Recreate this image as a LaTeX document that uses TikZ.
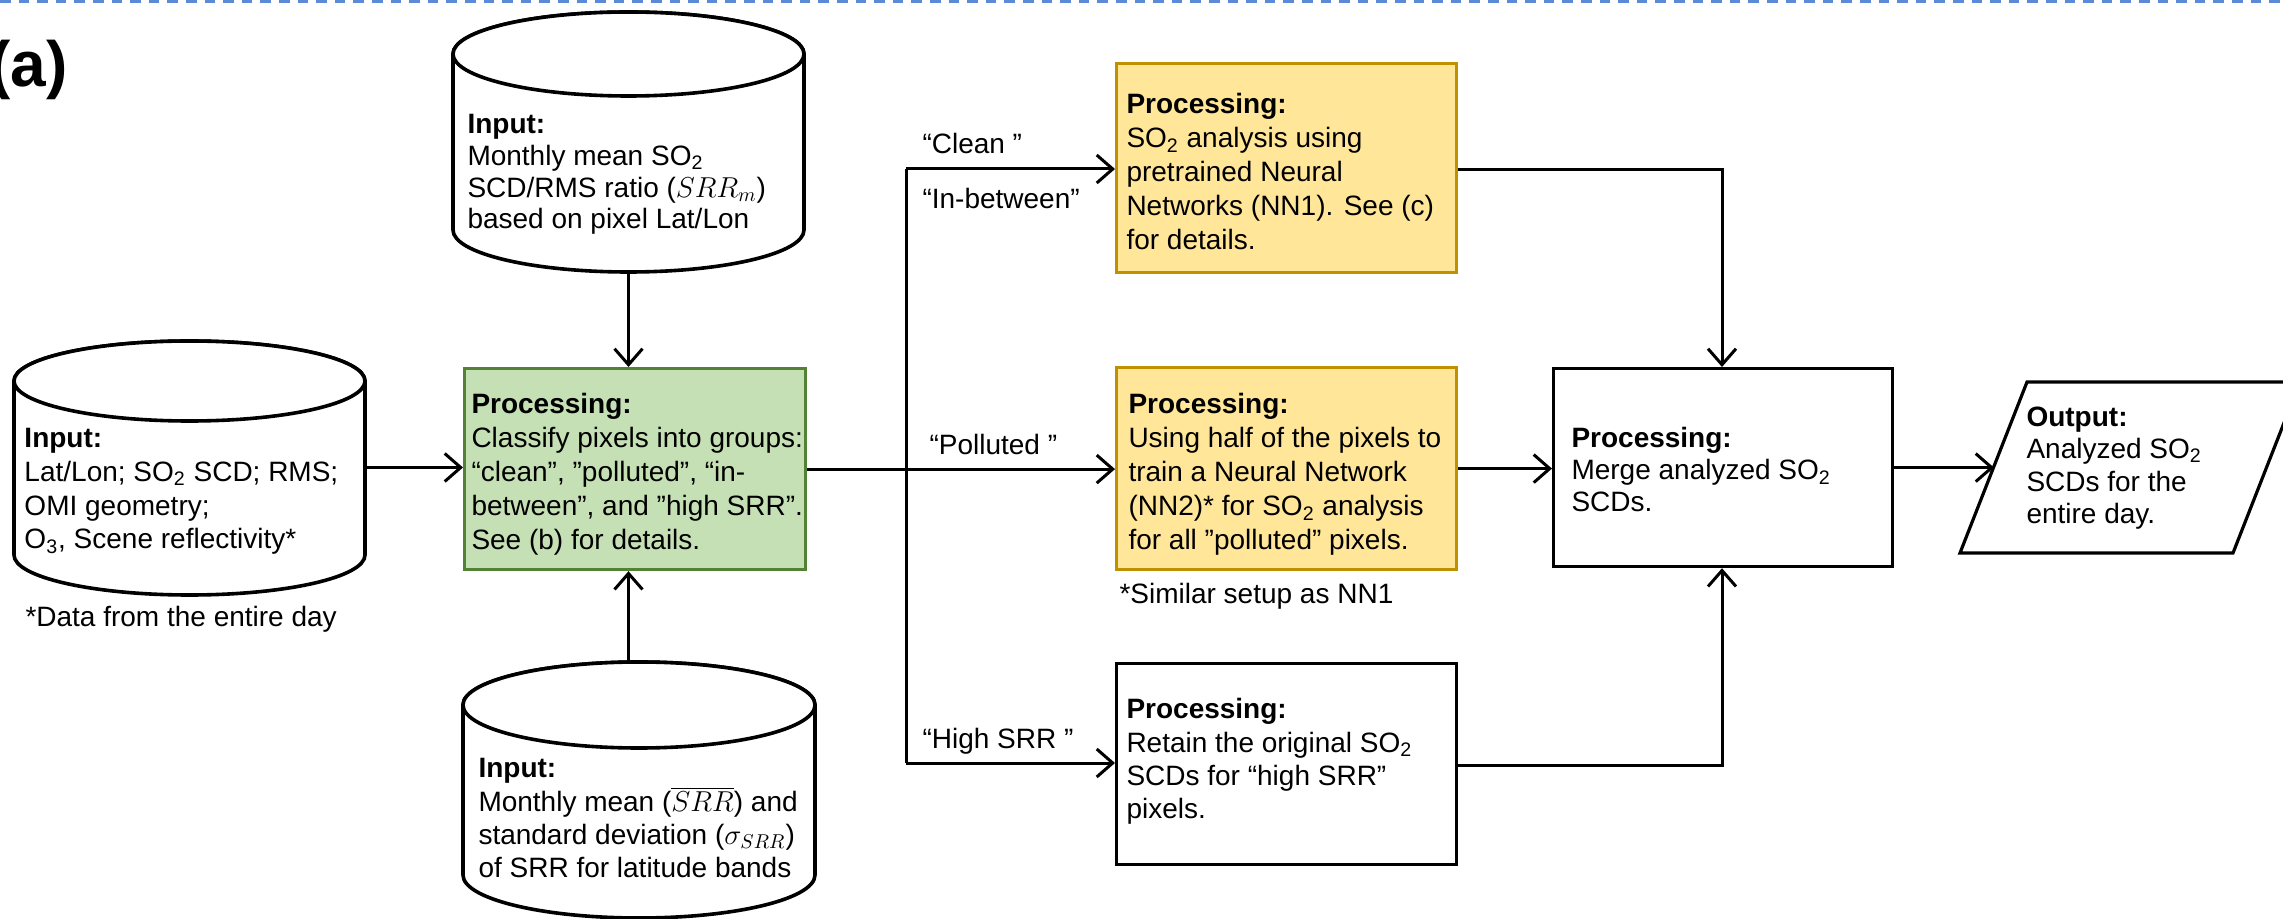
\documentclass[tikz,border=0pt]{standalone}
\usepackage{fontspec}
\setmainfont{Liberation Sans}
\usetikzlibrary{arrows.meta}
\definecolor{gfill}{HTML}{C5E0B4}
\definecolor{gline}{HTML}{548235}
\definecolor{yfill}{HTML}{FFE699}
\definecolor{yline}{HTML}{BF9000}
\definecolor{dline}{HTML}{5B8BD6}
\begin{document}
\begin{tikzpicture}[x=0.5pt,y=-0.5pt,line width=1.5pt,
  arr/.style={-{Straight Barb[length=8pt,width=14pt]}},
  frame/.style={inner sep=0pt,outer sep=0pt,draw=none},
  pbox/.style={draw=black,line width=1.6pt,inner sep=0pt,anchor=north west},
  gbox/.style={pbox,draw=gline,fill=gfill},
  ybox/.style={pbox,draw=yline,fill=yfill},
  cyl/.style={draw=black,line width=1.8pt,fill=white},
  tx/.style={anchor=north west,inner sep=0pt,align=left,font=\fontsize{14}{#1}\selectfont},
  tx/.default=17]
\useasboundingbox (0,0) rectangle (2283,919);
\clip (0,0) rectangle (2283,919);
% top dashed line
\draw[dline,line width=1.2pt,dash pattern=on 5.3pt off 4pt] (0,1.5) -- (2283,1.5);
% panel label
\node[anchor=west,inner sep=0pt,font=\bfseries\fontsize{32}{32}\selectfont] (lab) at (-12,70) {(a)};

% ---- cylinders ----
\node[frame,minimum width=175.5pt,minimum height=130pt] (cylT) at (628.5,142) {};
\draw[cyl] (453,54) -- (453,230) arc[start angle=180,end angle=0,x radius=175.5,y radius=42] -- (804,54) arc[start angle=0,end angle=-180,x radius=175.5,y radius=42] -- cycle;
\draw[cyl] (628.5,54) ellipse[x radius=175.5,y radius=42];

\node[frame,minimum width=175.5pt,minimum height=127pt] (cylL) at (189.5,467.5) {};
\draw[cyl] (14,381) -- (14,555) arc[start angle=180,end angle=0,x radius=175.5,y radius=40] -- (365,381) arc[start angle=0,end angle=-180,x radius=175.5,y radius=40] -- cycle;
\draw[cyl] (189.5,381) ellipse[x radius=175.5,y radius=40];

\node[frame,minimum width=176pt,minimum height=128pt] (cylB) at (639,790) {};
\draw[cyl] (463,705) -- (463,875) arc[start angle=180,end angle=0,x radius=176,y radius=43] -- (815,705) arc[start angle=0,end angle=-180,x radius=176,y radius=43] -- cycle;
\draw[cyl] (639,705) ellipse[x radius=176,y radius=43];

% ---- boxes ----
\node[gbox,minimum width=170.5pt,minimum height=100.5pt] (green) at (463,367) {};
\node[ybox,minimum width=170pt,minimum height=104.5pt] (box1) at (1115,62) {};
\node[ybox,minimum width=170pt,minimum height=101pt] (box2) at (1115,366) {};
\node[pbox,minimum width=170pt,minimum height=100.5pt] (box3) at (1115,662) {};
\node[pbox,minimum width=169.5pt,minimum height=99pt] (merge) at (1552,367) {};
\draw[line width=1.6pt] (1960,553) -- (2027,382) -- (2300,382) -- (2233,553) -- cycle;
\coordinate (outin) at (1994,466.5);

% ---- texts ----
\node[tx=15.85] (tT) at (466,113) {\textbf{Input:}\\Monthly mean SO\textsubscript{2}\\SCD/RMS ratio ($SRR_m$)\\based on pixel Lat/Lon};
\node[tx=16.85] (tL) at (23,427) {\textbf{Input:}\\Lat/Lon; SO\textsubscript{2} SCD; RMS;\\OMI geometry;\\O\textsubscript{3}, Scene reflectivity*};
\node[tx] (nL) at (24,605) {*Data from the entire day};
\node[tx=16.65] (tB) at (477,757) {\textbf{Input:}\\Monthly mean ($\overline{SRR}$) and\\standard deviation ($\sigma_{SRR}$)\\of SRR for latitude bands};
\node[tx] (tG) at (470,392) {\textbf{Processing:}\\Classify pixels into groups:\\“clean”, ”polluted”, “in-\\between”, and ”high SRR”.\\See (b) for details.};
\node[tx] (t1) at (1125,92) {\textbf{Processing:}\\SO\textsubscript{2} analysis using\\pretrained Neural\\Networks (NN1). See (c)\\for details.};
\node[tx] (t2) at (1127,392) {\textbf{Processing:}\\Using half of the pixels to\\train a Neural Network\\(NN2)* for SO\textsubscript{2} analysis\\for all ”polluted” pixels.};
\node[tx] (n2) at (1118,582) {*Similar setup as NN1};
\node[tx=16.7] (t3) at (1125,697) {\textbf{Processing:}\\Retain the original SO\textsubscript{2}\\SCDs for “high SRR”\\pixels.};
\node[tx=16] (tM) at (1570,426) {\textbf{Processing:}\\Merge analyzed SO\textsubscript{2}\\SCDs.};
\node[tx=16.3] (tO) at (2025,405) {\textbf{Output:}\\Analyzed SO\textsubscript{2}\\SCDs for the\\entire day.};
\node[tx] (lC) at (921,132) {“Clean ”};
\node[tx] (lI) at (921,187) {“In-between”};
\node[tx] (lP) at (928,433) {“Polluted ”};
\node[tx] (lH) at (921,727) {“High SRR ”};

% ---- connectors ----
\coordinate (busT) at (906,169);
\coordinate (busB) at (906,763);
\coordinate (jT) at (1722,170);
\coordinate (jB) at (1722,765);
\draw[arr] (cylT.south) -- (cylT.south |- green.north);
\draw[arr] (cylT.south |- cylB.north) -- (cylT.south |- green.south);
\draw[arr] (cylL.east) -- (cylL.east -| green.west);
\draw (green.east) -- (green.east -| busT) coordinate (busM);
\draw (busT) -- (busB);
\draw[arr] (busT) -- (busT -| box1.west);
\draw[arr] (busM) -- (busM -| box2.west);
\draw[arr] (busB) -- (busB -| box3.west);
\draw[arr] (box1.east |- jT) -- (jT) -- (jT |- merge.north);
\draw[arr] (box2.east) -- (box2.east -| merge.west);
\draw[arr] (box3.east |- jB) -- (jB) -- (jT |- merge.south);
\draw[arr] (merge.east) -- (merge.east -| outin);
\end{tikzpicture}
\end{document}
